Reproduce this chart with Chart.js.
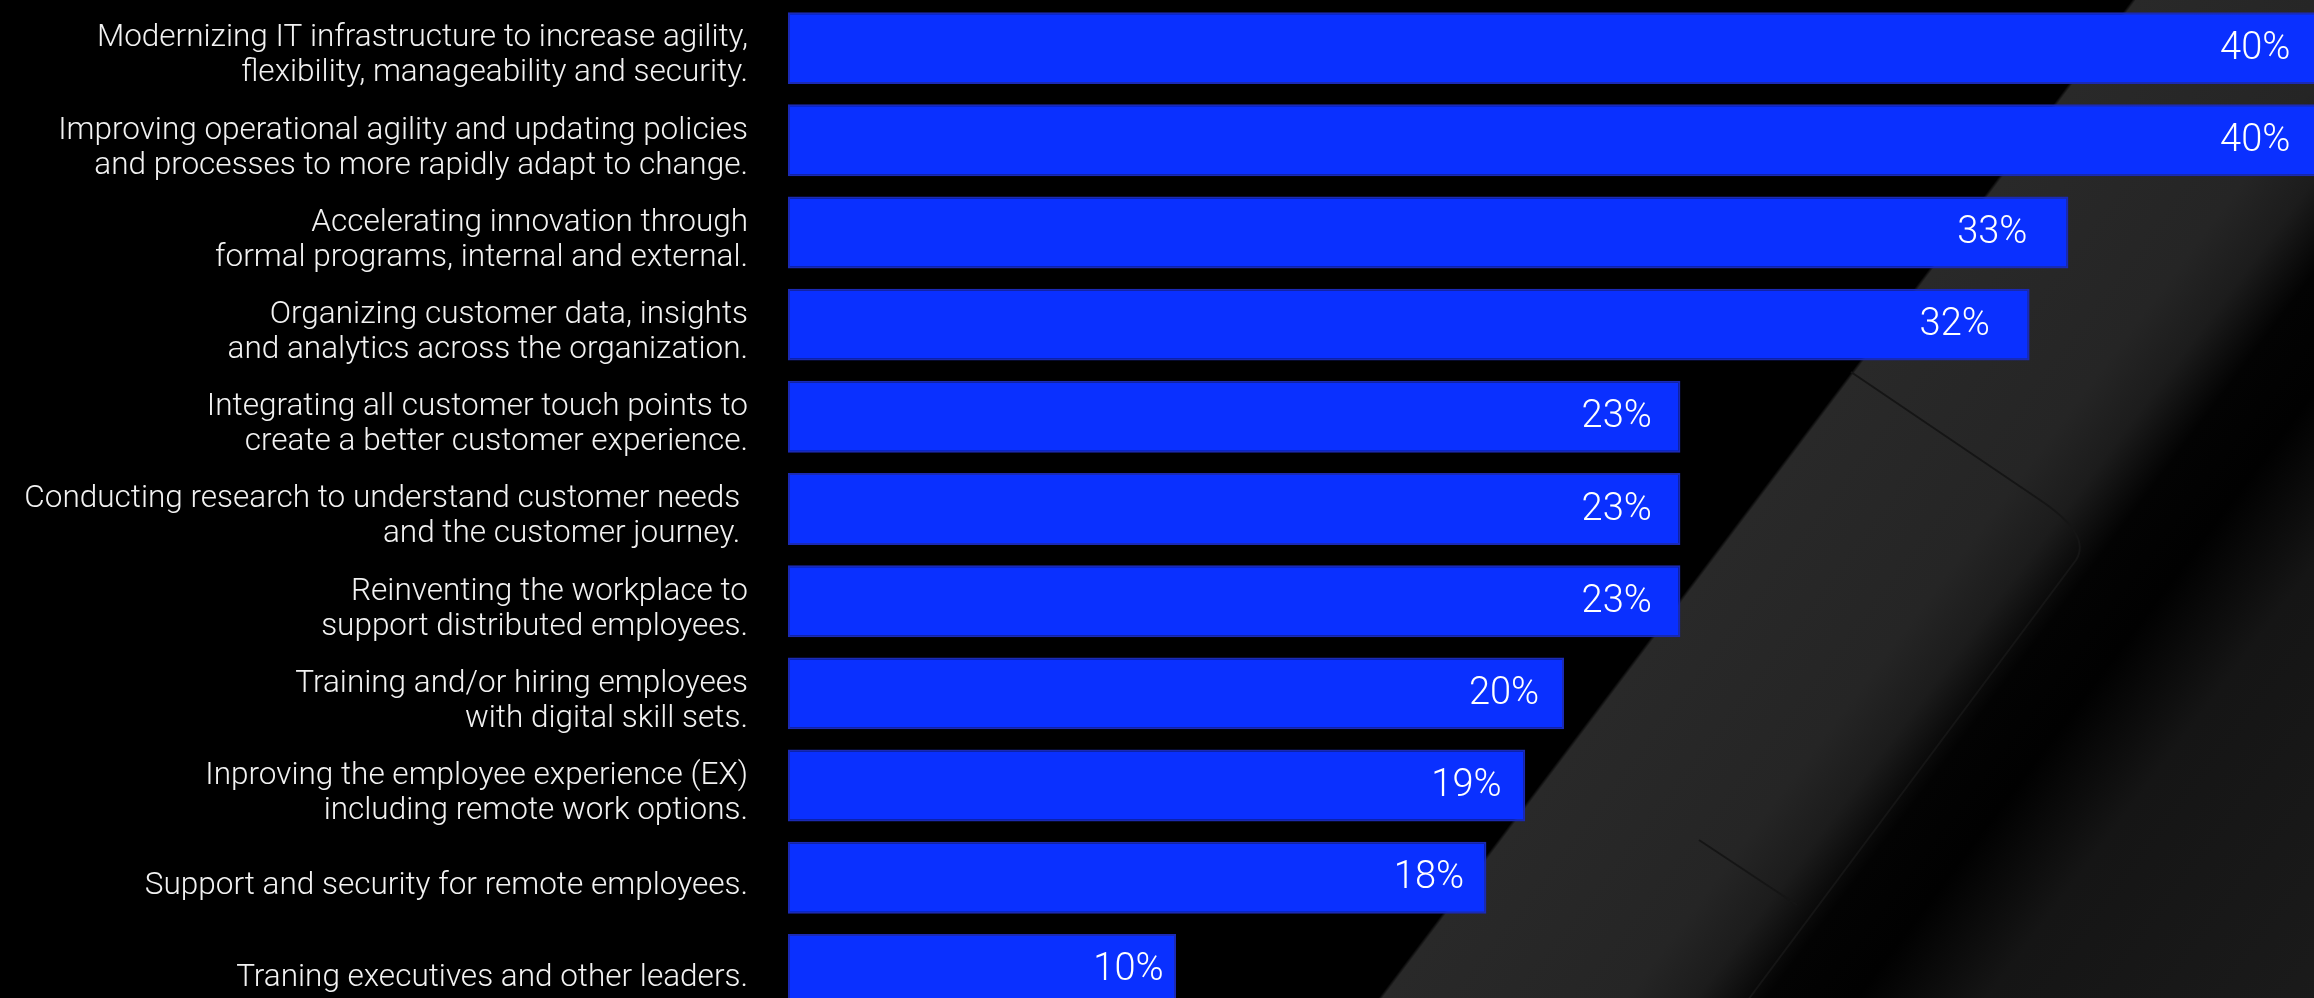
<!DOCTYPE html>
<html>
<head>
<meta charset="utf-8">
<script src="https://cdn.jsdelivr.net/npm/chart.js@4.4.1/dist/chart.umd.min.js"></script>
<style>
  html, body { margin: 0; padding: 0; background: #000; overflow: hidden; }
  #wrap { width: 2340px; height: 1016px; }
</style>
</head>
<body>
<div id="wrap"><canvas id="barchart" width="2340" height="1016"></canvas></div>
<script>
var categorias = [
    ["Modernizing IT infrastructure to increase agility,", "flexibility, manageability and security."],
    ["Improving operational agility and updating policies", "and processes to more rapidly adapt to change."],
    ["Accelerating innovation through", "formal programs, internal and external."],
    ["Organizing customer data, insights", "and analytics across the organization."],
    ["Integrating all customer touch points to", "create a better customer experience."],
    ["Conducting research to understand customer needs ", "and the customer journey. "],
    ["Reinventing the workplace to", "support distributed employees."],
    ["Training and/or hiring employees", "with digital skill sets."],
    ["Inproving the employee experience (EX)", "including remote work options."],
    "Support and security for remote employees.",
    "Traning executives and other leaders."
];
var valores = [40, 40, 33, 32, 23, 23, 23, 20, 19, 18, 10];
var rotulos = ["40%", "40%", "33%", "32%", "23%", "23%", "23%", "20%", "19%", "18%", "10%"];

// fundo: painel cinza na diagonal (foto do tablet)
var fundo = {
    id: 'fundo',
    beforeDraw: function(chart) {
        var ctx = chart.ctx;
        var w = chart.width, h = chart.height;
        ctx.save();
        // u = x + 0.755*y ; t = u/3100
        var k = 3100 / (1 + 0.755 * 0.755);
        var g = ctx.createLinearGradient(0, 0, k, 0.755 * k);
        g.addColorStop(0, '#000000');
        g.addColorStop(2132 / 3100, '#000000');
        g.addColorStop(2136 / 3100, '#292929');
        g.addColorStop(2380 / 3100, '#252525');
        g.addColorStop(2450 / 3100, '#1c1c1c');
        g.addColorStop(2520 / 3100, '#030303');
        g.addColorStop(2610 / 3100, '#010101');
        g.addColorStop(2740 / 3100, '#151515');
        g.addColorStop(1, '#1b1b1b');
        ctx.fillStyle = g;
        ctx.fillRect(0, 0, w, h);

        // contorno do tablet
        ctx.strokeStyle = '#151515';
        ctx.lineWidth = 2;
        ctx.beginPath();
        ctx.moveTo(1851, 372);
        ctx.lineTo(2040, 500);
        ctx.quadraticCurveTo(2092, 535, 2076, 560);
        ctx.lineTo(1748, 1000);
        ctx.stroke();
        ctx.beginPath();
        ctx.moveTo(1699, 840);
        ctx.lineTo(1797, 905);
        ctx.stroke();
        ctx.restore();
    }
};

// rótulos de porcentagem dentro das barras
var rotulosBarras = {
    id: 'rotulosBarras',
    afterDatasetsDraw: function(chart) {
        var ctx = chart.ctx;
        var meta = chart.getDatasetMeta(0);
        var x = chart.scales.x;
        ctx.save();
        ctx.font = '300 38px Roboto';
        ctx.fillStyle = '#ffffff';
        ctx.textAlign = 'right';
        ctx.textBaseline = 'middle';
        meta.data.forEach(function(bar, i) {
            ctx.fillText(rotulos[i], x.getPixelForValue(valores[i] * 0.968), bar.y + 1);
        });
        ctx.restore();
    }
};

function barchart() {
    var ctx = document.getElementById('barchart').getContext('2d');
    var chart = new Chart(ctx, {
        type: 'bar',
        data: {
            labels: categorias,
            datasets: [{
                data: valores,
                backgroundColor: '#0a30ff',
                borderColor: '#1b2ab5',
                borderWidth: 2,
                borderSkipped: false,
                barPercentage: 0.78,
                categoryPercentage: 1
            }]
        },
        options: {
            indexAxis: 'y',
            responsive: false,
            animation: false,
            layout: { padding: { top: 2, right: 0, bottom: 0, left: 0 } },
            plugins: {
                legend: { display: false },
                tooltip: { enabled: false }
            },
            scales: {
                x: {
                    display: false,
                    min: 0,
                    max: 40
                },
                y: {
                    border: { display: false },
                    grid: { display: false, drawTicks: false },
                    ticks: {
                        color: '#f2f2f2',
                        padding: 40,
                        labelOffset: 8,
                        font: { family: 'Roboto', size: 31.5, weight: 300, lineHeight: '35px' }
                    },
                    afterFit: function(scale) {
                        scale.width = 788;
                        scale.paddingTop = 0;
                        scale.paddingBottom = 0;
                    }
                }
            }
        },
        plugins: [fundo, rotulosBarras]
    });
}

barchart();
</script>
</body>
</html>
